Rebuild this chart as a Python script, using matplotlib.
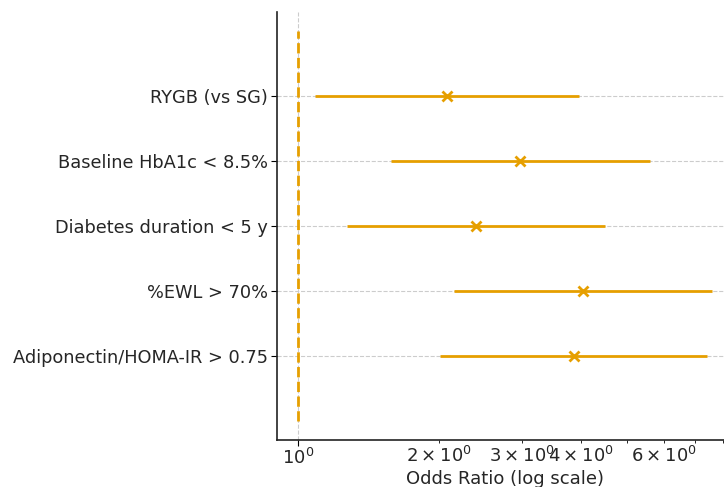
import matplotlib
matplotlib.use("Agg")
import matplotlib.pyplot as plt
import numpy as np

categories = ["RYGB (vs SG)", "Baseline HbA1c < 8.5%", "Diabetes duration < 5 y",
              "%EWL > 70%", "Adiponectin/HOMA-IR > 0.75"]
odds_ratio = [2.08, 2.97, 2.39, 4.04, 3.86]
ci_low = [1.09, 1.58, 1.27, 2.15, 2.01]
ci_high = [3.96, 5.60, 4.49, 7.60, 7.40]

color = "#E69F00"
text_color = "#262626"
plt.rcParams['text.color'] = text_color
plt.rcParams['xtick.labelcolor'] = text_color
plt.rcParams['ytick.labelcolor'] = text_color
plt.rcParams['axes.labelcolor'] = text_color

fig = plt.figure(figsize=(7.24, 4.87), dpi=100)
ax = fig.add_axes([277/724, 47/487, (733-277)/724, (440-12)/487])

y = np.arange(len(categories))[::-1]
orv = np.array(odds_ratio)
xerr = [orv - np.array(ci_low), np.array(ci_high) - orv]
ax.errorbar(orv, y, xerr=xerr, fmt='x', color=color, ecolor=color,
            elinewidth=2, capsize=0, markersize=7, markeredgewidth=2)
ax.vlines(1, -1, len(categories), colors=color, linestyles='--', linewidth=2)
ax.set_xscale('log')
ax.set_yticks(y)
ax.set_yticklabels(categories, fontsize=12.8)
ax.tick_params(axis='x', which='both', labelsize=13, pad=2)
ax.tick_params(axis='x', which='major', length=4)
ax.tick_params(axis='x', which='minor', length=2.5)
ax.tick_params(axis='y', length=4, pad=2.5)
ax.set_xlabel("Odds Ratio (log scale)", fontsize=13, labelpad=1)
ax.grid(True, which='major', linestyle='--', color='#cccccc', linewidth=0.8)
ax.set_axisbelow(True)
for s in ['top', 'right']:
    ax.spines[s].set_visible(False)
for s in ['left', 'bottom']:
    ax.spines[s].set_linewidth(1.2)
    ax.spines[s].set_color('#222222')

fig.savefig("out.png", dpi=100)
